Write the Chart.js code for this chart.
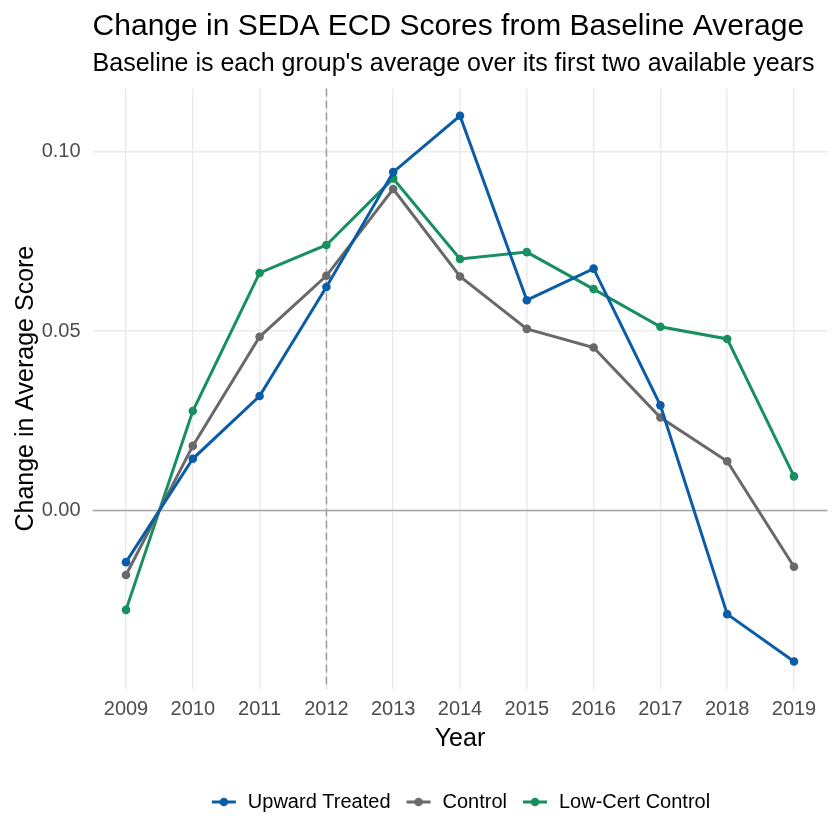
<!DOCTYPE html>
<html>
<head>
<meta charset="utf-8">
<script src="https://cdn.jsdelivr.net/npm/chart.js"></script>
<style>
  html, body { margin: 0; padding: 0; background: #ffffff; }
  #wrap { width: 840px; height: 840px; position: relative; }
</style>
</head>
<body>
<div id="wrap"><canvas id="chart"></canvas></div>
<script>
// 데이터
const years = [2009, 2010, 2011, 2012, 2013, 2014, 2015, 2016, 2017, 2018, 2019];
const upwardTreated = [-0.0144, 0.0144, 0.0319, 0.0623, 0.0943, 0.1100, 0.0586, 0.0674, 0.0293, -0.0289, -0.0421];
const control = [-0.0180, 0.0180, 0.0484, 0.0654, 0.0896, 0.0652, 0.0506, 0.0454, 0.0259, 0.0137, -0.0157];
const lowCertControl = [-0.0277, 0.0277, 0.0662, 0.0740, 0.0925, 0.0701, 0.0720, 0.0617, 0.0512, 0.0478, 0.0095];
const yTicks = [0.00, 0.05, 0.10];
const treatmentYear = 2012;

const FONT = "'Liberation Sans', Arial, sans-serif";

// 범례용 선+점 아이콘
function makeKey(color) {
  const c = document.createElement('canvas');
  c.width = 26;
  c.height = 12;
  const g = c.getContext('2d');
  g.strokeStyle = color;
  g.lineWidth = 3;
  g.beginPath();
  g.moveTo(1, 6);
  g.lineTo(25, 6);
  g.stroke();
  g.fillStyle = color;
  g.beginPath();
  g.arc(13, 6, 4.3, 0, Math.PI * 2);
  g.fill();
  return c;
}

function series(label, values, color) {
  return {
    label: label,
    data: years.map((x, i) => ({ x: x, y: values[i] })),
    borderColor: color,
    backgroundColor: color,
    borderWidth: 3,
    pointRadius: 4.3,
    pointHoverRadius: 4.3,
    pointBorderWidth: 0,
    tension: 0,
    keyIcon: makeKey(color)
  };
}

// 기준선 (y=0, 2012 점선)
const refLines = {
  id: 'refLines',
  beforeDatasetsDraw(chart) {
    const { ctx, chartArea, scales } = chart;
    ctx.save();
    const y0 = scales.y.getPixelForValue(0);
    ctx.strokeStyle = '#a6a6a6';
    ctx.lineWidth = 1.5;
    ctx.beginPath();
    ctx.moveTo(chartArea.left, y0);
    ctx.lineTo(chartArea.right, y0);
    ctx.stroke();

    const xv = scales.x.getPixelForValue(treatmentYear);
    ctx.strokeStyle = '#a0a0a0';
    ctx.setLineDash([8, 4]);
    ctx.beginPath();
    ctx.moveTo(xv, chartArea.top);
    ctx.lineTo(xv, chartArea.bottom);
    ctx.stroke();
    ctx.restore();
  }
};

// 제목/부제목
const titles = {
  id: 'titles',
  afterDraw(chart) {
    const { ctx, chartArea } = chart;
    ctx.save();
    ctx.fillStyle = '#000000';
    ctx.textAlign = 'left';
    ctx.textBaseline = 'alphabetic';
    ctx.font = '30px ' + FONT;
    ctx.fillText('Change in SEDA ECD Scores from Baseline Average', chartArea.left, 35);
    ctx.font = '25px ' + FONT;
    ctx.fillText("Baseline is each group's average over its first two available years", chartArea.left, 71);
    ctx.restore();
  }
};

new Chart(document.getElementById('chart'), {
  type: 'line',
  data: {
    datasets: [
      series('Upward Treated', upwardTreated, '#0b5ca8'),
      series('Control', control, '#696969'),
      series('Low-Cert Control', lowCertControl, '#178f60')
    ]
  },
  options: {
    responsive: true,
    maintainAspectRatio: false,
    animation: false,
    layout: {
      padding: { top: 88.5, right: 12.6, bottom: 18, left: 0 }
    },
    scales: {
      x: {
        type: 'linear',
        min: 2008.5,
        max: 2019.5,
        afterFit(scale) { scale.height = 89.2; },
        afterBuildTicks(scale) {
          scale.ticks = years.map(v => ({ value: v }));
        },
        grid: {
          color: '#ebebeb',
          lineWidth: 1.5,
          drawTicks: false
        },
        border: { display: false },
        ticks: {
          color: '#4d4d4d',
          padding: 9,
          font: { family: FONT, size: 20 },
          callback: v => String(v)
        },
        title: {
          display: true,
          text: 'Year',
          color: '#000000',
          font: { family: FONT, size: 25 },
          padding: { top: 0, bottom: 24 }
        }
      },
      y: {
        type: 'linear',
        min: -0.0497,
        max: 0.1176,
        afterFit(scale) { scale.width = 92.6; },
        afterBuildTicks(scale) {
          scale.ticks = yTicks.map(v => ({ value: v }));
        },
        grid: {
          color: '#ebebeb',
          lineWidth: 1.5,
          drawTicks: false
        },
        border: { display: false },
        ticks: {
          color: '#4d4d4d',
          padding: 12,
          font: { family: FONT, size: 20 },
          callback: v => v.toFixed(2)
        },
        title: {
          display: true,
          text: 'Change in Average Score',
          color: '#000000',
          font: { family: FONT, size: 25 },
          padding: { top: 11, bottom: 0 }
        }
      }
    },
    plugins: {
      legend: {
        position: 'bottom',
        fullSize: false,
        labels: {
          color: '#000000',
          font: { family: FONT, size: 20 },
          usePointStyle: true,
          pointStyleWidth: 28,
          boxHeight: 12,
          padding: 14,
          generateLabels(chart) {
            return chart.data.datasets.map((ds, i) => ({
              text: ds.label,
              pointStyle: ds.keyIcon,
              fillStyle: ds.borderColor,
              strokeStyle: ds.borderColor,
              lineWidth: 0,
              hidden: false,
              datasetIndex: i,
              fontColor: '#000000'
            }));
          }
        }
      },
      tooltip: { enabled: false }
    }
  },
  plugins: [refLines, titles]
});
</script>
</body>
</html>
